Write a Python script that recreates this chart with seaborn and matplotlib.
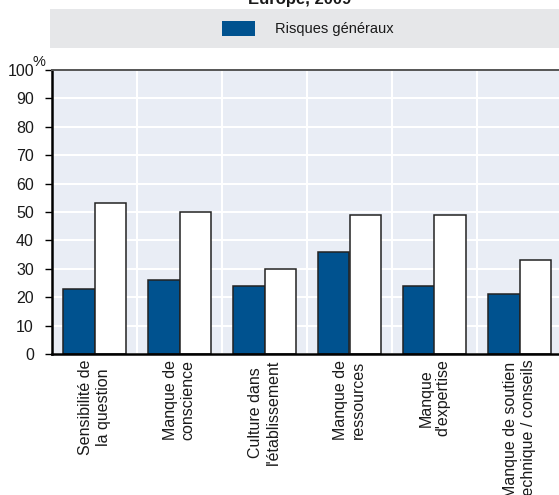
import pandas as pd
import numpy as np
import matplotlib
matplotlib.use("Agg")
import matplotlib.pyplot as plt
from matplotlib.patches import Rectangle
from matplotlib.ticker import MultipleLocator
import seaborn as sns

categories = ["Sensibilité de\nla question", "Manque de\nconscience",
              "Culture dans\nl'établissement", "Manque de\nressources",
              "Manque\nd'expertise", "Manque de soutien\ntechnique / conseils"]
general_risks = [23, 26, 24, 36, 24, 21]
other_risks = [53, 50, 30, 49, 49, 33]
series_names = ["Risques généraux", "Autres risques"]

df = pd.DataFrame({
    "cat": categories * 2,
    "val": general_risks + other_risks,
    "serie": [series_names[0]] * 6 + [series_names[1]] * 6,
})

sns.set_style("white")
plt.rcParams["font.family"] = ["Liberation Sans", "DejaVu Sans"]

fig = plt.figure(figsize=(5.59, 4.95), dpi=100)
ax = fig.add_axes([52 / 559, 1 - 354 / 495, 510 / 559, 284 / 495])

sns.barplot(data=df, x="cat", y="val", hue="serie", palette=["#00528f", "white"],
            saturation=1, width=0.74, gap=0, edgecolor="#222222", linewidth=1.1,
            ax=ax, legend=False)

ax.set_facecolor("#e9edf5")
ax.set_xlim(-0.5, 5.5)
ax.set_ylim(0, 100)
ax.yaxis.set_major_locator(MultipleLocator(10))
ax.set_xticks(np.arange(0.5, 5.5, 1), minor=True)
ax.grid(axis="y", which="major", color="white", linewidth=1.5)
ax.grid(axis="x", which="minor", color="white", linewidth=1.5)
ax.grid(axis="x", which="major", visible=False)
ax.set_axisbelow(True)

ax.set_xlabel("")
ax.set_ylabel("")
ax.tick_params(axis="y", which="major", length=5, width=1, color="black",
               pad=8, labelsize=11.5, labelcolor="#1a1a1a", left=True)
ax.tick_params(axis="x", which="both", length=0, pad=4, labelsize=11.5,
               labelcolor="#1a1a1a")
for lab in ax.get_xticklabels():
    lab.set_rotation(90)
    lab.set_multialignment("center")

for side in ["left", "bottom"]:
    ax.spines[side].set_color("black")
    ax.spines[side].set_linewidth(1.8)
ax.spines["top"].set_color("#555555")
ax.spines["top"].set_linewidth(1.4)
ax.spines["right"].set_visible(False)

ax.text(-0.025, 1.005, "%", transform=ax.transAxes, fontsize=10.5,
        ha="center", va="bottom", color="#1a1a1a")

# grey legend band
fig.patches.append(Rectangle((50 / 559, 1 - 48 / 495), 509 / 559, 39 / 495,
                             transform=fig.transFigure, facecolor="#e6e7e9",
                             edgecolor="none", zorder=0))
leg_handle = Rectangle((0, 0), 1, 1, facecolor="#00528f", edgecolor="none")
fig.legend([leg_handle], [series_names[0]], loc="center",
           bbox_to_anchor=(308 / 559, 1 - 28.5 / 495), frameon=False,
           fontsize=10.5, handlelength=2.2, handleheight=1.3, handletextpad=1.4,
           labelcolor="#1a1a1a")

fig.text(300 / 559, 1 - 4 / 495, "Europe, 2009", ha="center", va="baseline",
         fontsize=12, fontweight="bold", color="#1a1a1a")

plt.savefig("out.png", dpi=100)
